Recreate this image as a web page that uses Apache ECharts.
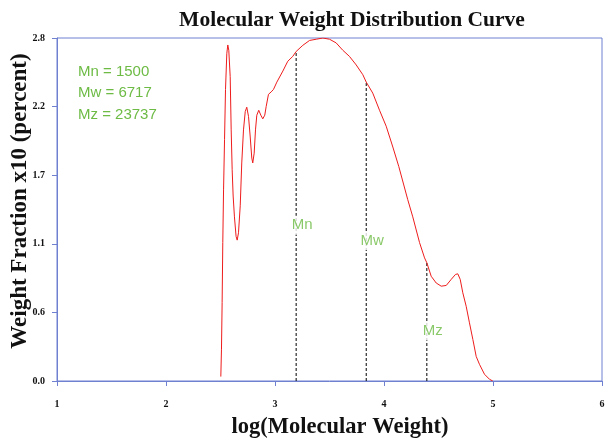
<!DOCTYPE html>
<html>
<head>
<meta charset="utf-8">
<script src="https://cdn.jsdelivr.net/npm/echarts@6/dist/echarts.min.js"></script>
<style>
html,body{margin:0;padding:0;background:#fff;}
#chart{width:605px;height:448px;}
</style>
</head>
<body>
<div id="chart"></div>
<script>
// log(Molecular Weight) values along the curve
var logMW = [2.503,2.509,2.515,2.521,2.528,2.537,2.546,2.558,2.567,2.576,2.589,2.598,2.607,2.616,2.628,2.643,2.653,2.665,2.681,2.695,2.711,2.727,2.741,2.757,2.772,2.787,2.796,2.809,2.821,2.833,2.851,2.870,2.888,2.906,2.919,2.940,2.965,2.986,3.017,3.072,3.117,3.163,3.194,3.255,3.317,3.378,3.439,3.500,3.561,3.622,3.683,3.745,3.806,3.837,3.897,3.959,4.020,4.081,4.136,4.218,4.264,4.326,4.372,4.393,4.433,4.479,4.525,4.571,4.617,4.656,4.677,4.699,4.723,4.754,4.784,4.815,4.846,4.876,4.922,4.968,4.998];
// Weight Fraction x10 (percent)
var weightFrac = [0.036,0.26,0.64,1.13,1.56,1.97,2.38,2.675,2.743,2.70,2.485,2.05,1.725,1.51,1.34,1.18,1.15,1.21,1.43,1.78,2.05,2.20,2.235,2.16,2.00,1.82,1.78,1.86,2.05,2.17,2.21,2.17,2.14,2.17,2.24,2.34,2.36,2.38,2.44,2.53,2.61,2.65,2.69,2.74,2.78,2.79,2.80,2.79,2.76,2.70,2.65,2.58,2.50,2.44,2.35,2.21,2.08,1.91,1.75,1.48,1.34,1.13,1.005,0.965,0.855,0.80,0.774,0.78,0.83,0.87,0.875,0.83,0.72,0.61,0.475,0.34,0.20,0.136,0.055,0.014,0];

// Average markers
var markerNames = ['Mn','Mw','Mz'];
var markerValues = [1500, 6717, 23737];
var markerX = [3.194, 3.837, 4.393];
var markerY = [2.69, 2.44, 0.965];

// Axis ticks
var xTicks = [1,2,3,4,5,6];
var yTicks = [0, 0.56, 1.12, 1.68, 2.24, 2.8];

var axisColor = '#6f80d0';
var green = '#6dbb45';
var serif = '"Liberation Serif","Times New Roman",serif';
var sans = '"Liberation Sans",Arial,sans-serif';

var curve = logMW.map(function(x,i){ return [x, weightFrac[i]]; });

var series = [{
  type:'line', data: curve, showSymbol:false, smooth:false,
  lineStyle:{color:'#ee1c1c', width:1}, z:5, animation:false
}];
markerNames.forEach(function(n,i){
  series.push({
    type:'line', data:[[markerX[i],0],[markerX[i],markerY[i]]], showSymbol:false,
    lineStyle:{color:'#000', width:1, type:[3,2]}, z:3, animation:false
  });
});
series.push({
  type:'scatter', symbolSize:0.1, itemStyle:{color:'rgba(0,0,0,0)'}, z:6, animation:false,
  data: markerNames.map(function(n,i){ return {name:n, value:[markerX[i], markerY[i]/2]}; }),
  label:{show:true, position:'inside', offset:[6,9], formatter:'{b}', color:green,
    fontFamily:sans, fontSize:15, backgroundColor:'#fff', padding:[2,0]}
});

var chart = echarts.init(document.getElementById('chart'), null, {renderer:'canvas'});
chart.setOption({
  animation:false,
  backgroundColor:'#fff',
  grid:{left:57, right:3, top:38, bottom:67, containLabel:false, outerBoundsMode:'none',
    show:true, borderColor:axisColor, borderWidth:1, backgroundColor:'transparent'},
  xAxis:{type:'value', min:xTicks[0], max:xTicks[xTicks.length-1], interval:1,
    axisLine:{show:true, onZero:false, lineStyle:{color:axisColor}},
    axisTick:{show:true, inside:false, length:5, lineStyle:{color:axisColor}},
    splitLine:{show:false},
    axisLabel:{margin:18, color:'#111', fontFamily:serif, fontWeight:'bold', fontSize:10}
  },
  yAxis:{type:'value', min:yTicks[0], max:yTicks[yTicks.length-1], interval:0.56,
    axisLine:{show:true, onZero:false, lineStyle:{color:axisColor}},
    axisTick:{show:true, inside:false, length:5, lineStyle:{color:axisColor}},
    splitLine:{show:false},
    axisLabel:{margin:12, color:'#111', fontFamily:serif, fontWeight:'bold', fontSize:10,
      formatter:function(v){ return (Math.round(v*10)/10).toFixed(1); }}
  },
  graphic:[
    {type:'text', x:352, y:20.5, style:{text:'Molecular Weight Distribution Curve', fill:'#111', font:'bold 21.5px '+serif, textAlign:'center', textVerticalAlign:'middle'}},
    {type:'text', x:340, y:427, style:{text:'log(Molecular Weight)', fill:'#111', font:'bold 22.5px '+serif, textAlign:'center', textVerticalAlign:'middle'}},
    {type:'text', x:19.6, y:201, rotation:Math.PI/2, style:{text:'Weight Fraction x10 (percent)', fill:'#111', font:'bold 23px '+serif, textAlign:'center', textVerticalAlign:'middle'}},
    {type:'text', x:78, y:71.7, style:{text:markerNames[0]+' = '+markerValues[0], fill:green, font:'15px '+sans, textAlign:'left', textVerticalAlign:'middle'}},
    {type:'text', x:78, y:93.3, style:{text:markerNames[1]+' = '+markerValues[1], fill:green, font:'15px '+sans, textAlign:'left', textVerticalAlign:'middle'}},
    {type:'text', x:78, y:115, style:{text:markerNames[2]+' = '+markerValues[2], fill:green, font:'15px '+sans, textAlign:'left', textVerticalAlign:'middle'}}
  ],
  series: series
});
</script>
</body>
</html>
